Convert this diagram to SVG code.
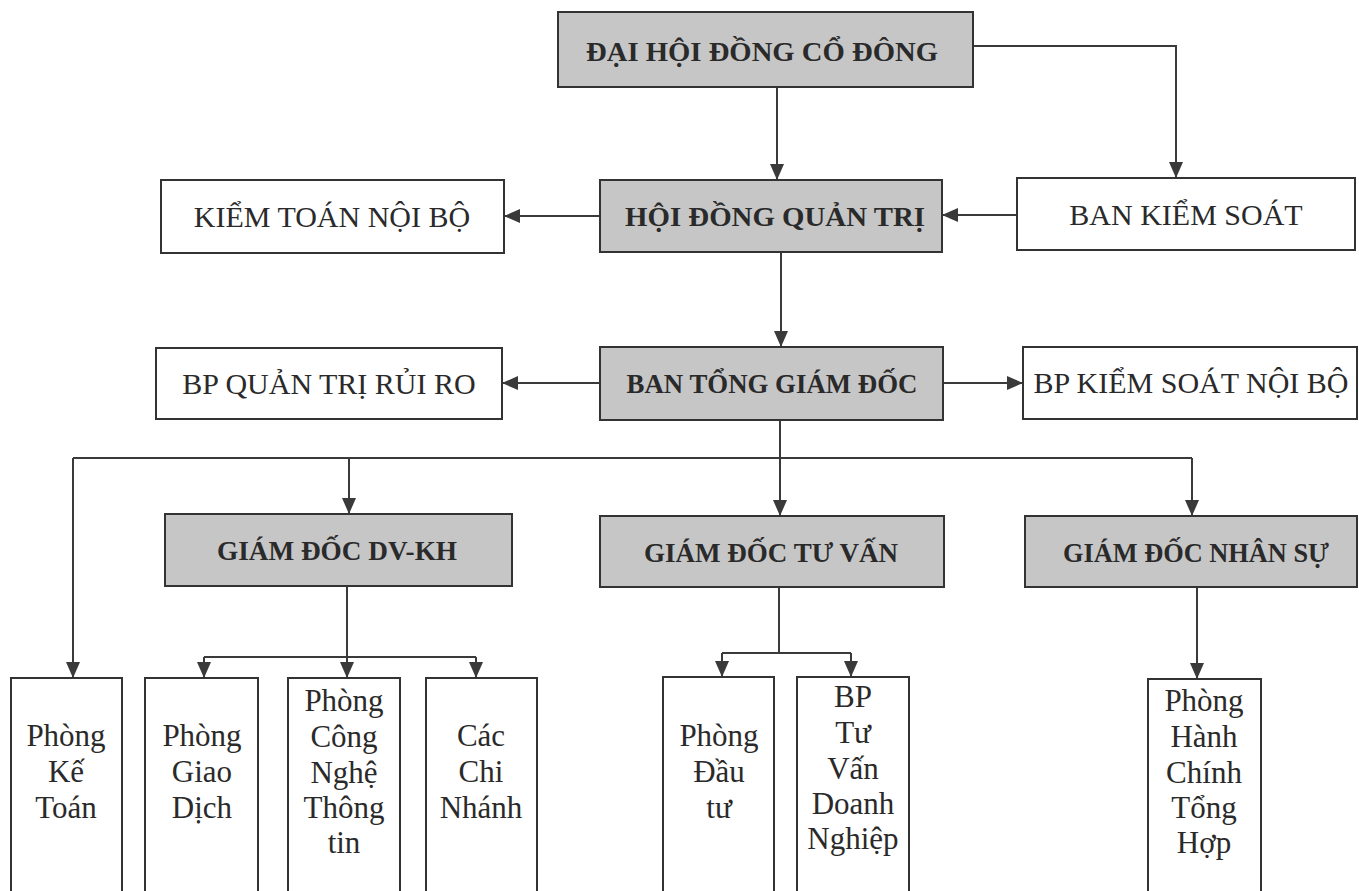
<svg xmlns="http://www.w3.org/2000/svg" width="1359" height="891" viewBox="0 0 1359 891">
<defs>
<marker id="arr" markerUnits="userSpaceOnUse" markerWidth="16" markerHeight="14" viewBox="0 0 16 14" refX="16" refY="7" orient="auto">
<path d="M0,0 L16,7 L0,14 z" fill="#3a3a3a"/>
</marker>
</defs>
<style>
.box{fill:#ffffff;stroke:#333;stroke-width:2}
.shade{fill:#c6c6c6;stroke:#333;stroke-width:2}
.t{font-family:"Liberation Serif","Times New Roman",serif;font-size:30px;fill:#2a2a2a;text-anchor:middle}
.b{font-family:"Liberation Serif","Times New Roman",serif;font-size:28px;font-weight:bold;fill:#2a2a2a;text-anchor:middle}
.s{font-family:"Liberation Serif","Times New Roman",serif;font-size:31px;fill:#2a2a2a;text-anchor:middle}
.c{fill:none;stroke:#3a3a3a;stroke-width:2}
</style>
<rect width="1359" height="891" fill="#ffffff"/>

<g id="connectors">
<path class="c" d="M777,87 V180" marker-end="url(#arr)"/>
<path class="c" d="M973,46 H1176 V178" marker-end="url(#arr)"/>
<path class="c" d="M1017,215 H942" marker-end="url(#arr)"/>
<path class="c" d="M600,216 H504" marker-end="url(#arr)"/>
<path class="c" d="M781,252 V347" marker-end="url(#arr)"/>
<path class="c" d="M600,383 H502" marker-end="url(#arr)"/>
<path class="c" d="M943,383 H1023" marker-end="url(#arr)"/>
<path class="c" d="M780,420 V458"/>
<path class="c" d="M73,458 H1192"/>
<path class="c" d="M73,458 V678" marker-end="url(#arr)"/>
<path class="c" d="M349,458 V514" marker-end="url(#arr)"/>
<path class="c" d="M780,458 V516" marker-end="url(#arr)"/>
<path class="c" d="M1192,458 V516" marker-end="url(#arr)"/>
<path class="c" d="M347,586 V657"/>
<path class="c" d="M204,657 H476"/>
<path class="c" d="M204,657 V678" marker-end="url(#arr)"/>
<path class="c" d="M347,657 V678" marker-end="url(#arr)"/>
<path class="c" d="M476,657 V678" marker-end="url(#arr)"/>
<path class="c" d="M779,587 V653"/>
<path class="c" d="M722,653 H851"/>
<path class="c" d="M722,653 V677" marker-end="url(#arr)"/>
<path class="c" d="M851,653 V677" marker-end="url(#arr)"/>
<path class="c" d="M1197,587 V679" marker-end="url(#arr)"/>
</g>

<g id="dhdcd">
<rect class="shade" x="558" y="12" width="415" height="75"/>
<text class="b" x="762" y="61" textLength="352" lengthAdjust="spacingAndGlyphs" font-size="31">ĐẠI HỘI ĐỒNG CỔ ĐÔNG</text>
</g>
<g id="ktnb">
<rect class="box" x="161" y="180" width="343" height="73"/>
<text class="t" x="332" y="227">KIỂM TOÁN NỘI BỘ</text>
</g>
<g id="hdqt">
<rect class="shade" x="600" y="180" width="342" height="72"/>
<text class="b" x="775" y="226" textLength="300" lengthAdjust="spacingAndGlyphs" font-size="31">HỘI ĐỒNG QUẢN TRỊ</text>
</g>
<g id="bks">
<rect class="box" x="1017" y="178" width="338" height="72"/>
<text class="t" x="1186" y="225">BAN KIỂM SOÁT</text>
</g>
<g id="bpqtrr">
<rect class="box" x="156" y="348" width="346" height="71"/>
<text class="t" x="329" y="394">BP QUẢN TRỊ RỦI RO</text>
</g>
<g id="btgd">
<rect class="shade" x="600" y="347" width="343" height="73"/>
<text class="b" x="772" y="393" textLength="291" lengthAdjust="spacingAndGlyphs" font-size="29">BAN TỔNG GIÁM ĐỐC</text>
</g>
<g id="bpksnb">
<rect class="box" x="1023" y="347" width="334" height="72"/>
<text class="t" x="1191" y="393">BP KIỂM SOÁT NỘI BỘ</text>
</g>
<g id="gddvkh">
<rect class="shade" x="165" y="514" width="347" height="72"/>
<text class="b" x="337" y="560" textLength="240" lengthAdjust="spacingAndGlyphs" font-size="29">GIÁM ĐỐC DV-KH</text>
</g>
<g id="gdtv">
<rect class="shade" x="600" y="516" width="344" height="71"/>
<text class="b" x="771" y="562" textLength="254" lengthAdjust="spacingAndGlyphs" font-size="29">GIÁM ĐỐC TƯ VẤN</text>
</g>
<g id="gdns">
<rect class="shade" x="1025" y="516" width="332" height="71"/>
<text class="b" x="1196" y="562" textLength="266" lengthAdjust="spacingAndGlyphs" font-size="29">GIÁM ĐỐC NHÂN SỰ</text>
</g>

<g id="pkt">
<rect class="box" x="11" y="678" width="111" height="230"/>
<text class="s" x="66"><tspan x="66" y="746">Phòng</tspan><tspan x="66" y="782">Kế</tspan><tspan x="66" y="818">Toán</tspan></text>
</g>
<g id="pgd">
<rect class="box" x="145" y="678" width="113" height="230"/>
<text class="s" x="202"><tspan x="202" y="746">Phòng</tspan><tspan x="202" y="782">Giao</tspan><tspan x="202" y="818">Dịch</tspan></text>
</g>
<g id="pcntt">
<rect class="box" x="288" y="678" width="112" height="230"/>
<text class="s" x="344"><tspan x="344" y="711">Phòng</tspan><tspan x="344" y="747">Công</tspan><tspan x="344" y="783">Nghệ</tspan><tspan x="344" y="818">Thông</tspan><tspan x="344" y="853">tin</tspan></text>
</g>
<g id="ccn">
<rect class="box" x="426" y="678" width="111" height="230"/>
<text class="s" x="481"><tspan x="481" y="746">Các</tspan><tspan x="481" y="782">Chi</tspan><tspan x="481" y="818">Nhánh</tspan></text>
</g>
<g id="pdt">
<rect class="box" x="663" y="677" width="111" height="230"/>
<text class="s" x="719"><tspan x="719" y="746">Phòng</tspan><tspan x="719" y="782">Đầu</tspan><tspan x="719" y="818">tư</tspan></text>
</g>
<g id="bptvdn">
<rect class="box" x="797" y="677" width="112" height="230"/>
<text class="s" x="853"><tspan x="853" y="707">BP</tspan><tspan x="853" y="743">Tư</tspan><tspan x="853" y="779">Vấn</tspan><tspan x="853" y="814">Doanh</tspan><tspan x="853" y="849">Nghiệp</tspan></text>
</g>
<g id="phcth">
<rect class="box" x="1148" y="679" width="113" height="230"/>
<text class="s" x="1204"><tspan x="1204" y="711">Phòng</tspan><tspan x="1204" y="747">Hành</tspan><tspan x="1204" y="783">Chính</tspan><tspan x="1204" y="818">Tổng</tspan><tspan x="1204" y="853">Hợp</tspan></text>
</g>
</svg>
